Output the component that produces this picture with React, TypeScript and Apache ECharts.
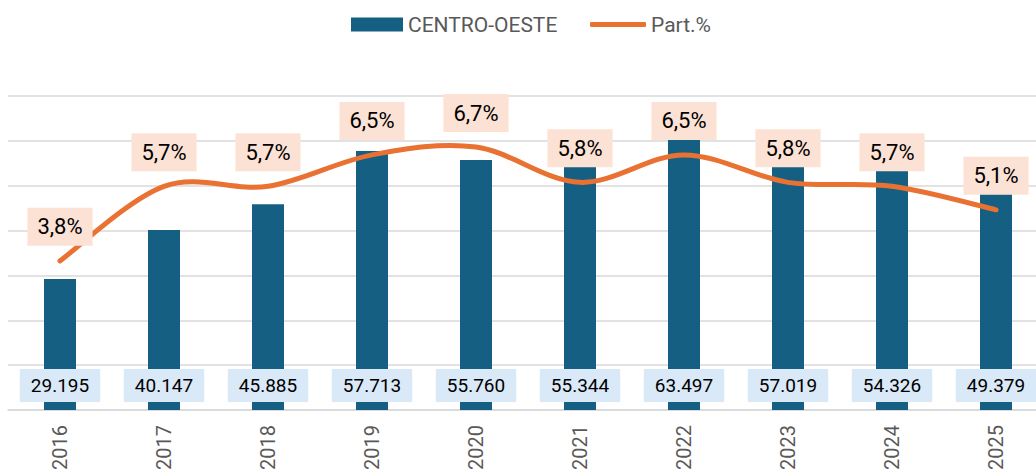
import React, { useEffect, useRef } from "react";
import * as echarts from "echarts";

const years = ["2016", "2017", "2018", "2019", "2020", "2021", "2022", "2023", "2024", "2025"];
const regionValues = [29195, 40147, 45885, 57713, 55760, 55344, 63497, 57019, 54326, 49379];
const partValues = [3.8, 5.7, 5.7, 6.5, 6.7, 5.8, 6.5, 5.8, 5.7, 5.1];

const BAR_NAME = "CENTRO-OESTE";
const LINE_NAME = "Part.%";
const LINE_COLOR = "#E97132";

const fmtThousands = (n: number) => String(n).replace(/\B(?=(\d{3})+(?!\d))/g, ".");
const fmtPct = (v: number) => v.toFixed(1).replace(".", ",") + "%";

// Excel-like (Catmull-Rom) smoothed path through points given by the axes
function smoothPath(pts: number[][]): string {
  if (!pts.length) return "";
  let d = `M${pts[0][0]},${pts[0][1]}`;
  for (let i = 0; i < pts.length - 1; i++) {
    const p0 = pts[i - 1] || pts[i];
    const p1 = pts[i];
    const p2 = pts[i + 1];
    const p3 = pts[i + 2] || pts[i + 1];
    const c1x = p1[0] + (p2[0] - p0[0]) / 6;
    const c1y = p1[1] + (p2[1] - p0[1]) / 6;
    const c2x = p2[0] - (p3[0] - p1[0]) / 6;
    const c2y = p2[1] - (p3[1] - p1[1]) / 6;
    d += ` C${c1x},${c1y} ${c2x},${c2y} ${p2[0]},${p2[1]}`;
  }
  return d;
}

export default function App() {
  const ref = useRef<HTMLDivElement>(null);
  useEffect(() => {
    if (!ref.current) return;
    const chart = echarts.init(ref.current, undefined, { renderer: "svg" });
    chart.setOption({
      animation: false,
      textStyle: { fontFamily: "Roboto" },
      legend: [
        {
          data: [{ name: BAR_NAME, icon: "rect" }],
          left: 351,
          top: 14,
          padding: 0,
          itemWidth: 52,
          itemHeight: 14,
          selectedMode: false,
          textStyle: { color: "#595959", fontSize: 21, fontFamily: "Roboto" },
        },
        {
          data: [{ name: LINE_NAME, icon: "roundRect", itemStyle: { color: LINE_COLOR } }],
          left: 590,
          top: 14,
          padding: 0,
          itemWidth: 56,
          itemHeight: 5,
          selectedMode: false,
          textStyle: { color: "#595959", fontSize: 21, fontFamily: "Roboto" },
        },
      ],
      grid: { left: 8, top: 96, right: 0, height: 314, containLabel: false },
      xAxis: {
        type: "category",
        data: years,
        axisTick: { show: false },
        axisLine: { lineStyle: { color: "#d9d9d9", width: 1.5 } },
        axisLabel: { rotate: 90, margin: 15, color: "#595959", fontSize: 20, fontFamily: "Roboto" },
      },
      yAxis: [
        {
          type: "value",
          min: 0,
          max: 70000,
          interval: 10000,
          axisLabel: { show: false },
          axisLine: { show: false },
          axisTick: { show: false },
          splitLine: { lineStyle: { color: "#d9d9d9", width: 1.5 } },
        },
        {
          type: "value",
          min: 0,
          max: 8,
          show: false,
          splitLine: { show: false },
        },
      ],
      series: [
        {
          name: BAR_NAME,
          type: "bar",
          data: regionValues,
          barWidth: 32,
          itemStyle: { color: "#156082" },
          label: {
            show: true,
            position: "insideBottom",
            distance: 8,
            formatter: (p: any) => fmtThousands(p.value),
            backgroundColor: "#DAE9F8",
            padding: [7, 11, 7, 11],
            fontSize: 19,
            lineHeight: 19,
            color: "#000",
            fontFamily: "Roboto",
          },
          z: 2,
        },
        {
          type: "custom",
          yAxisIndex: 1,
          data: partValues.map((v, i) => [i, v]),
          encode: { x: 0, y: 1 },
          silent: true,
          z: 4,
          renderItem: (params: any, api: any) => {
            if (params.dataIndex !== 0) return null;
            const pts = partValues.map((v, i) => api.coord([i, v]));
            return {
              type: "path",
              shape: { pathData: smoothPath(pts) },
              style: { stroke: LINE_COLOR, lineWidth: 5, fill: "none", lineCap: "round", lineJoin: "round" },
            };
          },
        },
        {
          name: LINE_NAME,
          type: "line",
          yAxisIndex: 1,
          data: partValues,
          symbol: "circle",
          symbolSize: 2,
          itemStyle: { color: "rgba(0,0,0,0)", borderWidth: 0 },
          lineStyle: { width: 0, opacity: 0 },
          label: {
            show: true,
            position: "top",
            distance: 14,
            formatter: (p: any) => fmtPct(p.value),
            backgroundColor: "#FBE2D5",
            padding: [8, 10, 8, 10],
            fontSize: 22,
            lineHeight: 22,
            color: "#000",
            fontFamily: "Roboto",
          },
          z: 5,
        },
      ],
    });
    return () => chart.dispose();
  }, []);
  return (
    <div
      style={{ position: "absolute", left: 0, top: 0, width: 1036, height: 476, overflow: "hidden", background: "#fff" }}
    >
      <div ref={ref} style={{ width: 1048, height: 476 }} />
    </div>
  );
}
